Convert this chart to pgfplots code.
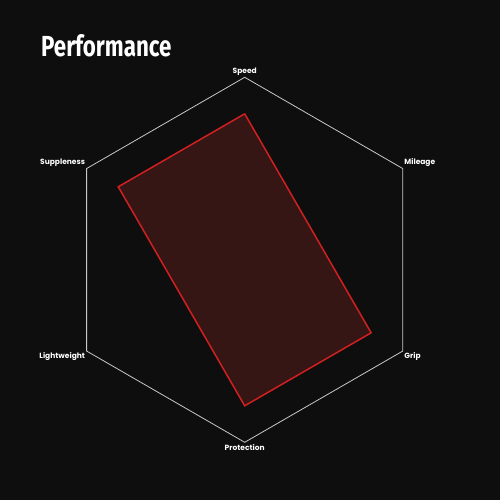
\documentclass[border=0pt]{standalone}
\usepackage{fontspec}
\setmainfont{Poppins}
\newfontfamily\titlefont{Fira Sans}
\usepackage{pgfplots}
\pgfplotsset{compat=1.18}
\usepgfplotslibrary{polar}
\definecolor{bg}{HTML}{0E0E0E}
\definecolor{gridc}{HTML}{C8C8C8}
\definecolor{redline}{HTML}{D02020}
\definecolor{redfill}{HTML}{361515}
\begin{document}
\begin{tikzpicture}
\fill[bg] (0,0) rectangle (500bp,500bp);
\begin{polaraxis}[
  at={(244.7bp,240.2bp)}, anchor=center,
  scale only axis, width=365bp, height=365bp,
  xmin=0, xmax=360, ymin=0, ymax=1,
  hide axis,
  clip=false,
]
% outer hexagon
\addplot[gridc, line width=0.8bp, sharp plot] coordinates {
  (90,1) (30,1) (330,1) (270,1) (210,1) (150,1) (90,1)};
% values: Speed, Mileage, Grip, Protection, Lightweight, Suppleness
\addplot[redline, line width=1.5bp, fill=redfill, sharp plot] coordinates {
  (90,0.8) (30,0.4) (330,0.8) (270,0.8) (210,0.4) (150,0.8) (90,0.8)};
\begin{scope}[every node/.style={text=white, font=\fontsize{7.5bp}{9bp}\selectfont\bfseries, inner sep=1.5bp}]
\node[anchor=south] at (axis cs:90,1) {Speed};
\node[anchor=south west] at (axis cs:30,1) {Mileage};
\node[anchor=north west] at (axis cs:330,1) {Grip};
\node[anchor=north] at (axis cs:270,1) {Protection};
\node[anchor=north east] at (axis cs:210,1) {Lightweight};
\node[anchor=south east] at (axis cs:150,1) {Suppleness};
\end{scope}
\end{polaraxis}
\node[anchor=base west, text=white, inner sep=0pt] at (41bp,443bp)
  {\scalebox{0.77}[1]{\titlefont\bfseries\fontsize{29bp}{32bp}\selectfont Performance}};
\pgfresetboundingbox
\useasboundingbox (0,0) rectangle (500bp,500bp);
\end{tikzpicture}
\end{document}
